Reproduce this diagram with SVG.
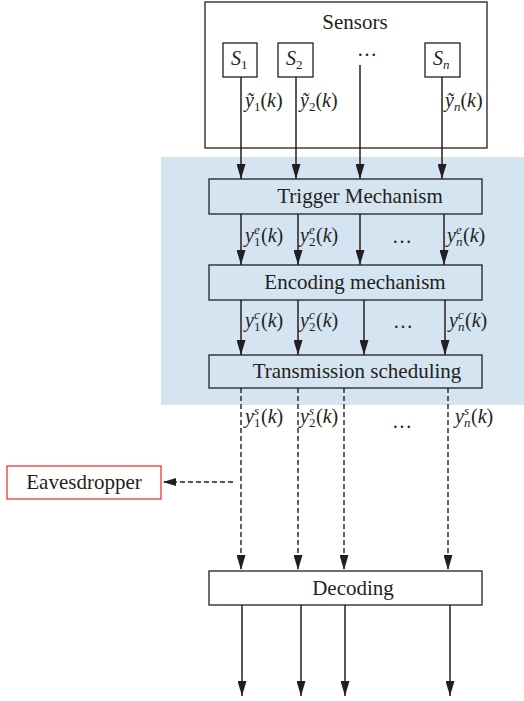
<svg xmlns="http://www.w3.org/2000/svg" width="524" height="701" viewBox="0 0 524 701" font-family="'Liberation Serif', 'Times New Roman', 'DejaVu Serif', serif">
<style>
text{font-family:'Liberation Serif','Times New Roman','DejaVu Serif',serif;fill:#231f20;}
.t{font-size:21px;text-anchor:middle;}
.m{font-size:20px;}
.i{font-style:italic;}
.s{font-size:13px;}
.box{fill:#fff;stroke:#231f20;stroke-width:1.3;}
.pbox{fill:#d5e4f1;stroke:#231f20;stroke-width:1.3;}
.ln{stroke:#231f20;stroke-width:1.5;fill:none;marker-end:url(#ah);}
.da{stroke:#231f20;stroke-width:1.4;fill:none;stroke-dasharray:5 3;marker-end:url(#ah);}
</style>
<defs>
<marker id="ah" markerWidth="15" markerHeight="9" refX="15" refY="4.5" orient="auto" markerUnits="userSpaceOnUse" viewBox="0 0 15 9">
<path d="M0,0 L15,4.5 L0,9 Z" fill="#231f20"/>
</marker>
<marker id="ahl" markerWidth="13" markerHeight="8" refX="13" refY="4" orient="auto" markerUnits="userSpaceOnUse" viewBox="0 0 13 8">
<path d="M0,0 L13,4 L0,8 Z" fill="#231f20"/>
</marker>
</defs>
<rect x="161" y="157" width="363" height="248" fill="#d5e4f1"/>
<g id="sensors">
<rect class="box" x="205" y="2" width="282" height="146"/>
<text class="t" x="355" y="29">Sensors</text>
<text class="m" x="357" y="56">…</text>
</g>
<g id="s1"><rect class="box" x="223" y="43" width="34" height="34"/><text class="m" x="231" y="65"><tspan class="i">S</tspan><tspan class="s" dy="4">1</tspan></text></g>
<g id="s2"><rect class="box" x="278" y="43" width="35" height="34"/><text class="m" x="286" y="65"><tspan class="i">S</tspan><tspan class="s" dy="4">2</tspan></text></g>
<g id="sn"><rect class="box" x="425" y="43" width="35" height="34"/><text class="m" x="433" y="65"><tspan class="i">S</tspan><tspan class="s i" dy="4">n</tspan></text></g>
<g id="trigger"><rect class="pbox" x="209" y="179" width="273" height="35"/><text class="t" x="360" y="203">Trigger Mechanism</text></g>
<g id="encoding"><rect class="pbox" x="209" y="265" width="273" height="35"/><text class="t" x="355" y="289">Encoding mechanism</text></g>
<g id="transmission"><rect class="pbox" x="209" y="355" width="273" height="33"/><text class="t" x="357" y="378">Transmission scheduling</text></g>
<g id="eavesdropper"><rect x="7" y="466" width="154" height="33" fill="#fff" stroke="#e8383d" stroke-width="1.3"/><text class="t" x="84" y="489">Eavesdropper</text></g>
<g id="decoding"><rect class="box" x="209" y="571" width="273" height="34"/><text class="t" x="353" y="595">Decoding</text></g>
<g id="connectors">
<path class="ln" d="M241,77 V179"/>
<path class="ln" d="M296,77 V179"/>
<path class="ln" d="M360,65 V179"/>
<path class="ln" d="M442,77 V179"/>
<path class="ln" d="M241,214 V265"/>
<path class="ln" d="M298,214 V265"/>
<path class="ln" d="M360,214 V265"/>
<path class="ln" d="M444,214 V265"/>
<path class="ln" d="M241,300 V355"/>
<path class="ln" d="M298,300 V355"/>
<path class="ln" d="M364,300 V355"/>
<path class="ln" d="M445,300 V355"/>
<path class="da" d="M241,388 V570"/>
<path class="da" d="M298,388 V570"/>
<path class="da" d="M344,388 V570"/>
<path class="da" d="M448,388 V570"/>
<path class="da" d="M233,482 H163" style="marker-end:url(#ahl)"/>
<path class="ln" d="M242,605 V696"/>
<path class="ln" d="M301,605 V696"/>
<path class="ln" d="M345,605 V696"/>
<path class="ln" d="M450,605 V696"/>
</g>
<g id="labels">
<text class="m" x="245" y="107"><tspan class="i">ỹ</tspan><tspan class="s" dy="4">1</tspan><tspan dy="-4">(</tspan><tspan class="i">k</tspan>)</text>
<text class="m" x="300" y="107"><tspan class="i">ỹ</tspan><tspan class="s" dy="4">2</tspan><tspan dy="-4">(</tspan><tspan class="i">k</tspan>)</text>
<text class="m" x="445" y="107"><tspan class="i">ỹ</tspan><tspan class="s i" dy="4">n</tspan><tspan dy="-4">(</tspan><tspan class="i">k</tspan>)</text>

<text class="m" x="245" y="242"><tspan class="i">y</tspan><tspan class="s i" x="254" y="234">e</tspan><tspan class="s" x="254" y="246">1</tspan><tspan x="261" y="242">(</tspan><tspan class="i">k</tspan>)</text>
<text class="m" x="300" y="242"><tspan class="i">y</tspan><tspan class="s i" x="309" y="234">e</tspan><tspan class="s" x="309" y="246">2</tspan><tspan x="316" y="242">(</tspan><tspan class="i">k</tspan>)</text>
<text class="m" x="392" y="243">…</text>
<text class="m" x="447" y="242"><tspan class="i">y</tspan><tspan class="s i" x="456" y="234">e</tspan><tspan class="s i" x="456" y="246">n</tspan><tspan x="463" y="242">(</tspan><tspan class="i">k</tspan>)</text>

<text class="m" x="245" y="327"><tspan class="i">y</tspan><tspan class="s i" x="254" y="319">c</tspan><tspan class="s" x="254" y="331">1</tspan><tspan x="261" y="327">(</tspan><tspan class="i">k</tspan>)</text>
<text class="m" x="300" y="327"><tspan class="i">y</tspan><tspan class="s i" x="309" y="319">c</tspan><tspan class="s" x="309" y="331">2</tspan><tspan x="316" y="327">(</tspan><tspan class="i">k</tspan>)</text>
<text class="m" x="393" y="328">…</text>
<text class="m" x="449" y="327"><tspan class="i">y</tspan><tspan class="s i" x="458" y="319">c</tspan><tspan class="s i" x="458" y="331">n</tspan><tspan x="465" y="327">(</tspan><tspan class="i">k</tspan>)</text>

<text class="m" x="245" y="423"><tspan class="i">y</tspan><tspan class="s i" x="254" y="415">s</tspan><tspan class="s" x="254" y="427">1</tspan><tspan x="261" y="423">(</tspan><tspan class="i">k</tspan>)</text>
<text class="m" x="300" y="423"><tspan class="i">y</tspan><tspan class="s i" x="309" y="415">s</tspan><tspan class="s" x="309" y="427">2</tspan><tspan x="316" y="423">(</tspan><tspan class="i">k</tspan>)</text>
<text class="m" x="392" y="428">…</text>
<text class="m" x="455" y="423"><tspan class="i">y</tspan><tspan class="s i" x="464" y="415">s</tspan><tspan class="s i" x="464" y="427">n</tspan><tspan x="471" y="423">(</tspan><tspan class="i">k</tspan>)</text>
</g>
</svg>
